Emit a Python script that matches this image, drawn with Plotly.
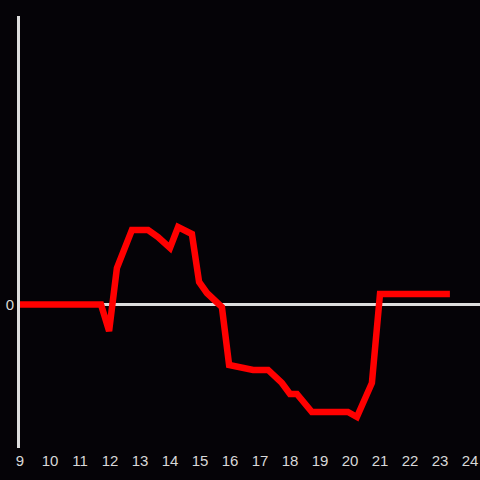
import plotly.graph_objects as go

hours = [9.0, 11.7, 11.97, 12.23, 12.73, 13.27, 13.6, 14.0, 14.27, 14.73, 14.97, 15.23,
         15.73, 15.97, 16.77, 17.27, 17.73, 18.0, 18.23, 18.73, 19.93, 20.23, 20.73, 21.0, 23.33]
values = [0.0, 0.0, -2.65, 3.65, 7.45, 7.45, 6.75, 5.65, 7.75, 7.05, 2.25, 1.15,
          -0.25, -6.05, -6.55, -6.55, -7.85, -8.95, -8.95, -10.75, -10.75, -11.25, -7.85, 1.05, 1.05]
x_ticks = list(range(9, 25))

fig = go.Figure()
fig.add_trace(go.Scatter(x=hours, y=values, mode="lines",
                         line=dict(color="#ff0000", width=6.5), hoverinfo="skip"))

bg = "#050307"
fig.update_layout(
    width=480, height=480,
    paper_bgcolor=bg, plot_bgcolor=bg,
    margin=dict(l=20, r=0, t=16, b=32),
    showlegend=False,
    font=dict(family="Liberation Sans, Arial, sans-serif", size=15, color="#d8d8d8"),
    xaxis=dict(range=[9, 24 + 1 / 3], tickvals=x_ticks, ticktext=[str(t) for t in x_ticks],
               showgrid=False, zeroline=False, showline=False, ticks="", automargin=False,
               ticklabelstandoff=2),
    yaxis=dict(range=[-14.35, 28.85], tickvals=[0], ticktext=["0"],
               showgrid=False, zeroline=True, zerolinecolor="#dddddd", zerolinewidth=3,
               showline=True, linecolor="#dddddd", linewidth=3, ticks="", automargin=False),
)
fig.write_html("out.html", config={"displayModeBar": False},
               post_script="document.body.style.margin='0';document.body.style.background='#050307';")
